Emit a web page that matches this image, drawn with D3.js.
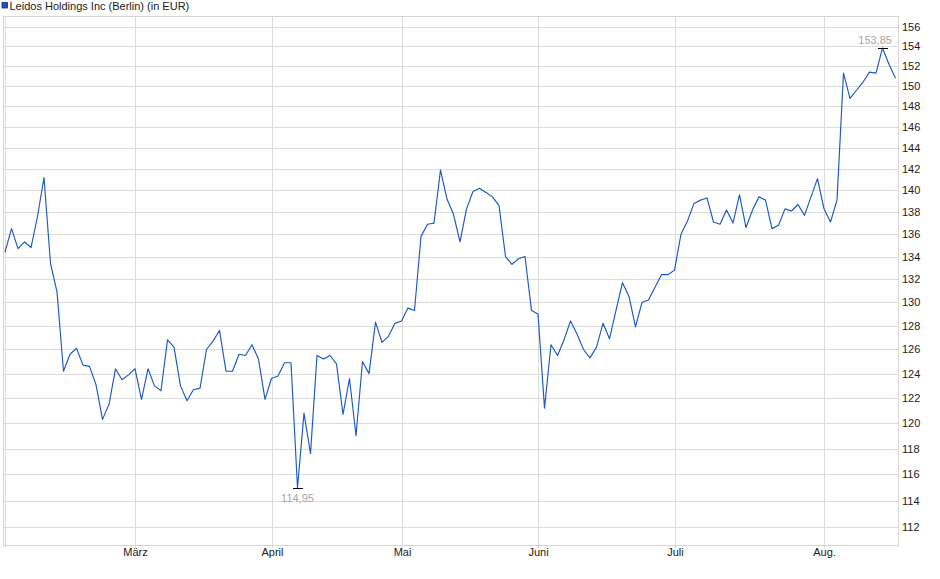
<!DOCTYPE html>
<html>
<head>
<meta charset="utf-8">
<script src="https://cdn.jsdelivr.net/npm/d3@7"></script>
<style>
  html, body { margin: 0; padding: 0; background: #fff; }
  svg { display: block; font-family: "Liberation Sans", Arial, sans-serif; }
</style>
</head>
<body>
<svg id="chart" width="940" height="579"></svg>
<script>
const title = "Leidos Holdings Inc (Berlin) (in EUR)";

const dates = [
  "2025-02-03","2025-02-04","2025-02-05","2025-02-06","2025-02-07","2025-02-10","2025-02-11","2025-02-12","2025-02-13","2025-02-14",
  "2025-02-17","2025-02-18","2025-02-19","2025-02-20","2025-02-21","2025-02-24","2025-02-25","2025-02-26","2025-02-27","2025-02-28",
  "2025-03-03","2025-03-04","2025-03-05","2025-03-06","2025-03-07","2025-03-10","2025-03-11","2025-03-12","2025-03-13","2025-03-14",
  "2025-03-17","2025-03-18","2025-03-19","2025-03-20","2025-03-21","2025-03-24","2025-03-25","2025-03-26","2025-03-27","2025-03-28","2025-03-31",
  "2025-04-01","2025-04-02","2025-04-03","2025-04-04","2025-04-07","2025-04-08","2025-04-09","2025-04-10","2025-04-11","2025-04-14",
  "2025-04-15","2025-04-16","2025-04-17","2025-04-22","2025-04-23","2025-04-24","2025-04-25","2025-04-28","2025-04-29","2025-04-30",
  "2025-05-02","2025-05-05","2025-05-06","2025-05-07","2025-05-08","2025-05-09","2025-05-12","2025-05-13","2025-05-14","2025-05-15","2025-05-16",
  "2025-05-19","2025-05-20","2025-05-21","2025-05-22","2025-05-23","2025-05-26","2025-05-27","2025-05-28","2025-05-29","2025-05-30",
  "2025-06-02","2025-06-03","2025-06-04","2025-06-05","2025-06-06","2025-06-09","2025-06-10","2025-06-11","2025-06-12","2025-06-13",
  "2025-06-16","2025-06-17","2025-06-18","2025-06-19","2025-06-20","2025-06-23","2025-06-24","2025-06-25","2025-06-26","2025-06-27","2025-06-30",
  "2025-07-01","2025-07-02","2025-07-03","2025-07-04","2025-07-07","2025-07-08","2025-07-09","2025-07-10","2025-07-11","2025-07-14",
  "2025-07-15","2025-07-16","2025-07-17","2025-07-18","2025-07-21","2025-07-22","2025-07-23","2025-07-24","2025-07-25","2025-07-28",
  "2025-07-29","2025-07-30","2025-07-31",
  "2025-08-01","2025-08-04","2025-08-05","2025-08-06","2025-08-07","2025-08-08","2025-08-11","2025-08-12","2025-08-13","2025-08-14","2025-08-15","2025-08-18"
];

const prices = [
  134.4,136.5,134.7,135.3,134.8,137.6,141.2,133.4,130.9,124.2,
  125.6,126.1,124.7,124.6,123.1,120.3,121.5,124.4,123.5,123.9,
  124.4,121.9,124.4,123.0,122.6,126.8,126.2,123.0,121.8,122.7,
  122.8,126.0,126.7,127.6,124.2,124.2,125.6,125.5,126.4,125.2,121.9,
  123.6,123.8,124.9,124.9,114.95,120.8,117.6,125.5,125.2,125.5,
  124.8,120.7,123.6,119.0,125.0,124.0,128.3,126.6,127.1,128.2,
  128.4,129.5,129.3,135.8,136.9,137.0,141.9,139.2,137.8,135.3,138.3,
  139.9,140.2,139.8,139.4,138.6,134.0,133.3,133.8,134.0,129.3,
  129.0,121.2,126.4,125.5,126.8,128.4,127.3,126.0,125.3,126.2,
  128.2,126.9,129.3,131.7,130.5,127.9,130.0,130.2,131.3,132.4,132.4,
  132.8,136.0,137.2,138.8,139.1,139.3,137.1,136.9,138.2,137.0,
  139.6,136.6,138.2,139.4,139.1,136.5,136.8,138.3,138.1,138.7,
  137.7,139.4,141.1,
  138.3,137.1,139.1,151.3,148.8,149.6,150.4,151.4,151.3,153.85,152.2,150.8
];

const monthTicks  = ["2025-02-03","2025-03-03","2025-04-01","2025-05-02","2025-06-02","2025-07-01","2025-08-01"];
const monthLabels = ["", "März", "April", "Mai", "Juni", "Juli", "Aug."];
const yTicks = [112,114,116,118,120,122,124,126,128,130,132,134,136,138,140,142,144,146,148,150,152,154,156];
const yDomain = [110.66, 157.14];

const svg = d3.select("#chart");
const frame = { left: 3.5, top: 16.5, right: 898.5, bottom: 545.5 };
const gridColor = "#dcdcdc";

const x = d3.scalePoint().domain(dates).range([5, 895.5]);
const y = d3.scaleLog().domain(yDomain).range([545.5, 16]);
const crisp = v => Math.round(v) + 0.5;

// horizontal grid + right axis labels
const yAxis = d3.axisRight(y).tickValues(yTicks).tickFormat(d3.format("d"))
  .tickSize(-(frame.right - frame.left)).tickPadding(3.5);
const ya = svg.append("g").attr("transform", `translate(${frame.right},0)`).call(yAxis);
ya.select(".domain").remove();
ya.selectAll(".tick").attr("transform", d => `translate(0,${crisp(y(d))})`);
ya.selectAll(".tick line").attr("stroke", gridColor).attr("shape-rendering", "crispEdges");
ya.selectAll(".tick text").attr("fill", "#1a1a1a").attr("font-size", "11px")
  .attr("font-family", "Liberation Sans, Arial, sans-serif").attr("dy", "0.34em");

// vertical month grid + bottom labels
const xAxis = d3.axisBottom(x).tickValues(monthTicks)
  .tickFormat((d, i) => monthLabels[i])
  .tickSize(-(frame.bottom - frame.top)).tickPadding(6);
const xa = svg.append("g").attr("transform", `translate(0,${frame.bottom})`).call(xAxis);
xa.select(".domain").remove();
xa.selectAll(".tick").attr("transform", d => `translate(${crisp(x(d))},0)`);
xa.selectAll(".tick line").attr("stroke", gridColor).attr("shape-rendering", "crispEdges")
  .attr("y1", -(frame.bottom - frame.top)).attr("y2", 2);
xa.selectAll(".tick text").attr("fill", "#1a1a1a").attr("font-size", "11px")
  .attr("font-family", "Liberation Sans, Arial, sans-serif").attr("dy", "0.45em");

// frame
svg.append("rect")
  .attr("x", frame.left).attr("y", frame.top)
  .attr("width", frame.right - frame.left).attr("height", frame.bottom - frame.top)
  .attr("fill", "none").attr("stroke", "#d6d6d6").attr("shape-rendering", "crispEdges");

// price line
const line = d3.line().x((d, i) => x(dates[i])).y(d => y(d));
svg.append("path").datum(prices)
  .attr("d", line).attr("fill", "none")
  .attr("stroke", "#1b58c6").attr("stroke-width", 1.15).attr("stroke-linejoin", "round");

// min / max markers
const fmt = v => v.toFixed(2).replace(".", ",");
const iMax = d3.maxIndex(prices), iMin = d3.minIndex(prices);
function marker(i, above) {
  const px = x(dates[i]), py = Math.round(y(prices[i])) + 0.5;
  svg.append("line").attr("x1", px - 5).attr("x2", px + 5).attr("y1", py).attr("y2", py)
    .attr("stroke", "#000").attr("stroke-width", 1).attr("shape-rendering", "crispEdges");
  const label = fmt(prices[i]);
  const t = svg.append("text").text(label).attr("font-size", "11px")
    .attr("fill", "#a8a6a6").attr("text-anchor", "middle")
    .attr("x", px).attr("y", above ? py - 4.5 : py + 13.5);
  const w = t.node().getComputedTextLength();
  const maxRight = frame.right - 6.5;
  if (px + w / 2 > maxRight) t.attr("x", maxRight - w / 2);
}
marker(iMax, true);
marker(iMin, false);

// legend
svg.append("rect").attr("x", 2).attr("y", 2.5).attr("width", 5.5).attr("height", 5.5)
  .attr("fill", "#1d56c0").attr("stroke", "#0e2f7a").attr("stroke-width", 0.8);
svg.append("text").text(title).attr("x", 9.5).attr("y", 10)
  .attr("font-size", "11px").attr("fill", "#1a1a1a");
</script>
</body>
</html>
